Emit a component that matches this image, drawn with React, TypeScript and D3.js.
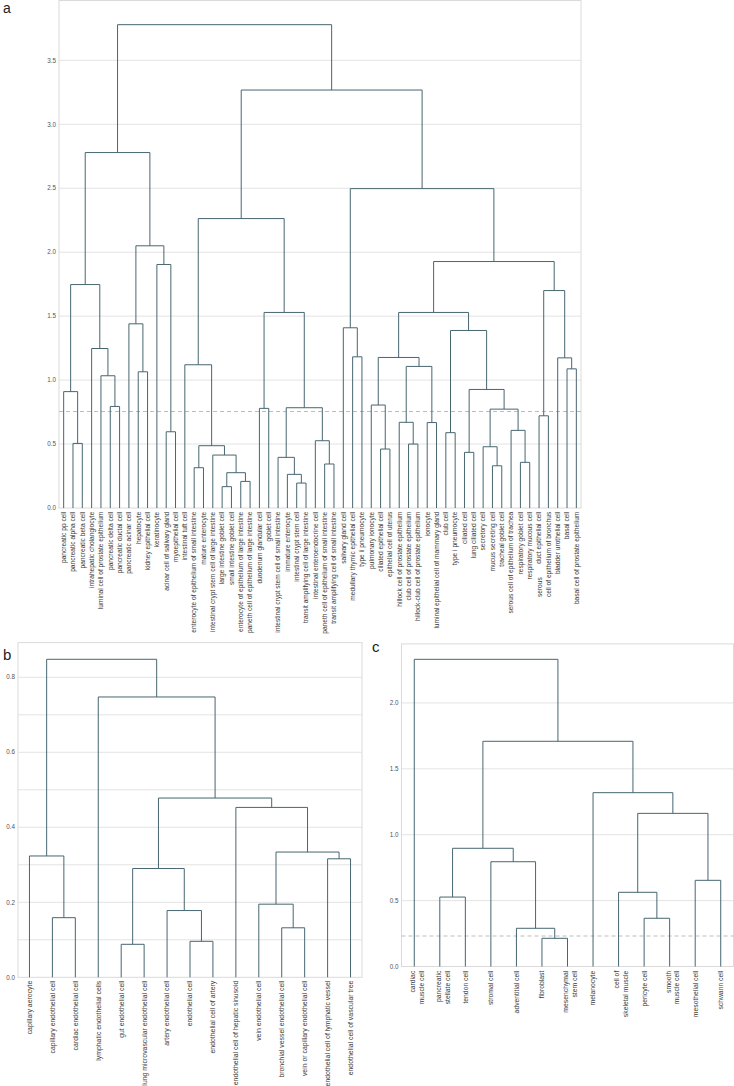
import React from 'react';
import * as d3 from 'd3';

type Node = number | [Node, Node, number];

// ---------- Panel a ----------
const LEAVES_A: string[] = [
  'pancreatic pp cell', 'pancreatic alpha cell', 'pancreatic beta cell', 'intrahepatic cholangiocyte',
  'luminal cell of prostate epithelium', 'pancreatic delta cell', 'pancreatic ductal cell', 'pancreatic acinar cell',
  'hepatocyte', 'kidney epithelial cell', 'keratinocyte', 'acinar cell of salivary gland', 'myoepithelial cell',
  'intestinal tuft cell', 'enterocyte of epithelium of small intestine', 'mature enterocyte',
  'intestinal crypt stem cell of large intestine', 'large intestine goblet cell', 'small intestine goblet cell',
  'enterocyte of epithelium of large intestine', 'paneth cell of epithelium of large intestine',
  'duodenum glandular cell', 'goblet cell', 'intestinal crypt stem cell of small intestine', 'immature enterocyte',
  'intestinal crypt stem cell', 'transit amplifying cell of large intestine', 'intestinal enteroendocrine cell',
  'paneth cell of epithelium of small intestine', 'transit amplifying cell of small intestine', 'salivary gland cell',
  'medullary thymic epithelial cell', 'type ii pneumocyte', 'pulmonary ionocyte', 'ciliated epithelial cell',
  'epithelial cell of uterus', 'hillock cell of prostate epithelium', 'club cell of prostate epithelium',
  'hillock-club cell of prostate epithelium', 'ionocyte', 'luminal epithelial cell of mammary gland', 'club cell',
  'type i pneumocyte', 'ciliated cell', 'lung ciliated cell', 'secretory cell', 'mucus secreting cell',
  'tracheal goblet cell', 'serous cell of epithelium of trachea', 'respiratory goblet cell',
  'respiratory mucous cell', 'duct epithelial cell', 'serous\ncell of epithelium of bronchus',
  'bladder urothelial cell', 'basal cell', 'basal cell of prostate epithelium',
];
const TREE_A_PANCREAS: Node = [[0, [1, 2, 0.505], 0.91], [3, [4, [5, 6, 0.794], 1.034], 1.247], 1.747];
const TREE_A_LIVER: Node = [[7, [8, 9, 1.065], 1.44], [10, [11, 12, 0.596], 1.904], 2.05];
const TREE_A_GUT1: Node = [13, [[14, 15, 0.315], [16, [[17, 18, 0.167], [19, 20, 0.208], 0.276], 0.414], 0.487], 1.12];
const TREE_A_GUT2: Node = [[21, 22, 0.779], [[23, [24, [25, 26, 0.195], 0.263], 0.396], [27, [28, 29, 0.344], 0.526], 0.784], 1.529];
const TREE_A_GLAND: Node = [30, [31, 32, 1.182], 1.409];
const TREE_A_LUNG1: Node = [[33, [34, 35, 0.461], 0.805], [[36, [37, 38, 0.5], 0.67], [39, 40, 0.668], 1.107], 1.177];
const TREE_A_LUNG2: Node = [[41, 42, 0.589], [[43, 44, 0.435], [[45, [46, 47, 0.33], 0.479], [48, [49, 50, 0.357], 0.607], 0.773], 0.927], 1.388];
const TREE_A_BASAL: Node = [[51, 52, 0.721], [53, [54, 55, 1.088], 1.174], 1.7];
const TREE_A: Node = [
  [TREE_A_PANCREAS, TREE_A_LIVER, 2.779],
  [[TREE_A_GUT1, TREE_A_GUT2, 2.263],
   [TREE_A_GLAND, [[TREE_A_LUNG1, TREE_A_LUNG2, 1.529], TREE_A_BASAL, 1.927], 2.497], 3.268],
  3.779,
];
const TICKS_A = [0, 0.5, 1, 1.5, 2, 2.5, 3, 3.5];
const CUT_A = 0.755;

// ---------- Panel b ----------
const LEAVES_B: string[] = [
  'capillary aerocyte', 'capillary endothelial cell', 'cardiac endothelial cell', 'lymphatic endothelial cells',
  'gut endothelial cell', 'lung microvascular endothelial cell', 'artery endothelial cell', 'endothelial cell',
  'endothelial cell of artery', 'endothelial cell of hepatic sinusoid', 'vein endothelial cell',
  'bronchial vessel endothelial cell', 'vein or capillary endothelial cell', 'endothelial cell of lymphatic vessel',
  'endothelial cell of vascular tree',
];
const TREE_B: Node = [
  [0, [1, 2, 0.159], 0.3235],
  [3, [[[4, 5, 0.088], [6, [7, 8, 0.096], 0.178], 0.29],
       [9, [[10, [11, 12, 0.132], 0.195], [13, 14, 0.316], 0.334], 0.453], 0.478], 0.7475],
  0.848,
];
const TICKS_B = [0, 0.2, 0.4, 0.6, 0.8];
const GRID_B = [0.1, 0.2, 0.3, 0.4, 0.5, 0.6, 0.7, 0.8];

// ---------- Panel c ----------
const LEAVES_C: string[] = [
  'cardiac\nmuscle cell', 'pancreatic\nstellate cell', 'tendon cell', 'stromal cell', 'adventitial cell',
  'fibroblast', 'mesenchymal\nstem cell', 'melanocyte', 'cell of\nskeletal muscle', 'pericyte cell',
  'smooth\nmuscle cell', 'mesothelial cell', 'schwann cell',
];
const TREE_C: Node = [
  0,
  [[[1, 2, 0.527], [3, [4, [5, 6, 0.214], 0.29], 0.795], 0.897],
   [7, [[8, [9, 10, 0.366], 0.563], [11, 12, 0.654], 1.162], 1.319], 1.709],
  2.331,
];
const TICKS_C = [0, 0.5, 1, 1.5, 2];
const CUT_C = 0.231;

const FONT = '"Liberation Sans", Arial, Helvetica, sans-serif';
const LINK = '#476670';
const GRIDC = '#e3e3e3';
const FRAMEC = '#dadada';

let ctx: CanvasRenderingContext2D | null = null;
function measure(text: string, size: number): number {
  if (!ctx) {
    const c = document.createElement('canvas');
    ctx = c.getContext('2d');
  }
  if (!ctx) return text.length * size * 0.5;
  ctx.font = `${size}px ${FONT}`;
  return ctx.measureText(text).width;
}

interface DProps {
  tree: Node;
  leaves: string[];
  x0: number; x1: number; yZero: number; yTop: number; vMax: number;
  ticks: number[]; grid: number[]; cut?: number;
  fontSize: number; tickFont: number; labelGap: number;
  lineOffsets: number[]; alignBottom: boolean;
}

function Dendrogram(p: DProps) {
  const n = p.leaves.length;
  const xs = d3.scaleLinear().domain([0, n]).range([p.x0, p.x1]);
  const ys = d3.scaleLinear().domain([0, p.vMax]).range([p.yZero, p.yTop]);
  const segs: string[] = [];
  const walk = (node: Node): { x: number; h: number } => {
    if (typeof node === 'number') return { x: xs(node + 0.5), h: 0 };
    const [l, r, h] = node;
    const a = walk(l);
    const b = walk(r);
    const path = d3.path();
    path.moveTo(a.x, ys(a.h));
    path.lineTo(a.x, ys(h));
    path.lineTo(b.x, ys(h));
    path.lineTo(b.x, ys(b.h));
    segs.push(path.toString());
    return { x: (a.x + b.x) / 2, h };
  };
  walk(p.tree);
  const ly = p.yZero + p.labelGap;
  return (
    <g>
      {p.grid.map((g) => (
        <line key={'g' + g} x1={p.x0} x2={p.x1} y1={ys(g)} y2={ys(g)} stroke={GRIDC} strokeWidth={1} />
      ))}
      <rect x={p.x0} y={p.yTop} width={p.x1 - p.x0} height={p.yZero - p.yTop} fill="none" stroke={FRAMEC} strokeWidth={1} />
      {p.cut !== undefined && (
        <line x1={p.x0} x2={p.x1} y1={ys(p.cut)} y2={ys(p.cut)} stroke="#bdbdbd" strokeWidth={1.1} strokeDasharray="4,3" />
      )}
      {segs.map((d, i) => (
        <path key={'s' + i} d={d} fill="none" stroke={LINK} strokeWidth={1} />
      ))}
      {p.ticks.map((t) => (
        <text key={'t' + t} x={p.x0 - 3} y={ys(t)} dy="0.35em" textAnchor="end" fontSize={p.tickFont} fill="#555" fontFamily={FONT}>
          {d3.format('.1f')(t)}
        </text>
      ))}
      {p.leaves.map((lab, i) => {
        const x = xs(i + 0.5);
        const lines = lab.split('\n');
        if (lines.length === 1) {
          return (
            <text key={'l' + i} transform={`translate(${x},${ly}) rotate(-90)`} dy="0.35em" textAnchor="end" fontSize={p.fontSize} fill="#3a3a3a" fontFamily={FONT}>
              {lab}
            </text>
          );
        }
        const widths = lines.map((s) => measure(s, p.fontSize));
        const maxW = Math.max(...widths);
        return (
          <g key={'l' + i}>
            {lines.map((s, j) => {
              const dx = p.lineOffsets[j] ?? 0;
              const yy = p.alignBottom ? ly + maxW - widths[j] : ly;
              return (
                <text key={j} transform={`translate(${x + dx},${yy}) rotate(-90)`} dy="0.35em" textAnchor="end" fontSize={p.fontSize} fill="#3a3a3a" fontFamily={FONT}>
                  {s}
                </text>
              );
            })}
          </g>
        );
      })}
    </g>
  );
}

export default function App() {
  return (
    <svg width={734} height={1086} style={{ position: 'absolute', left: 0, top: 0, background: '#fff' }} fontFamily={FONT}>
      <rect x={0} y={0} width={734} height={1086} fill="#fff" />
      <text x={3} y={13} fontSize={14} fill="#222" fontFamily={FONT}>a</text>
      <text x={3} y={660} fontSize={15} fill="#222" fontFamily={FONT}>b</text>
      <text x={372} y={652} fontSize={15} fill="#222" fontFamily={FONT}>c</text>
      <Dendrogram
        tree={TREE_A} leaves={LEAVES_A}
        x0={59} x1={581} yZero={508} yTop={0.5} vMax={3.968}
        ticks={TICKS_A} grid={TICKS_A.slice(1)} cut={CUT_A}
        fontSize={6.6} tickFont={6.3} labelGap={3.7}
        lineOffsets={[-8.7, 0.4]} alignBottom={true}
      />
      <Dendrogram
        tree={TREE_B} leaves={LEAVES_B}
        x0={18} x1={362} yZero={977.3} yTop={642.6} vMax={0.8925}
        ticks={TICKS_B} grid={GRID_B}
        fontSize={6.9} tickFont={6.3} labelGap={3.4}
        lineOffsets={[0, 0]} alignBottom={false}
      />
      <Dendrogram
        tree={TREE_C} leaves={LEAVES_C}
        x0={401.5} x1={733.5} yZero={966.5} yTop={643.9} vMax={2.448}
        ticks={TICKS_C} grid={TICKS_C.slice(1)} cut={CUT_C}
        fontSize={6.8} tickFont={6.3} labelGap={4.2}
        lineOffsets={[-1.5, 7.4]} alignBottom={false}
      />
    </svg>
  );
}
